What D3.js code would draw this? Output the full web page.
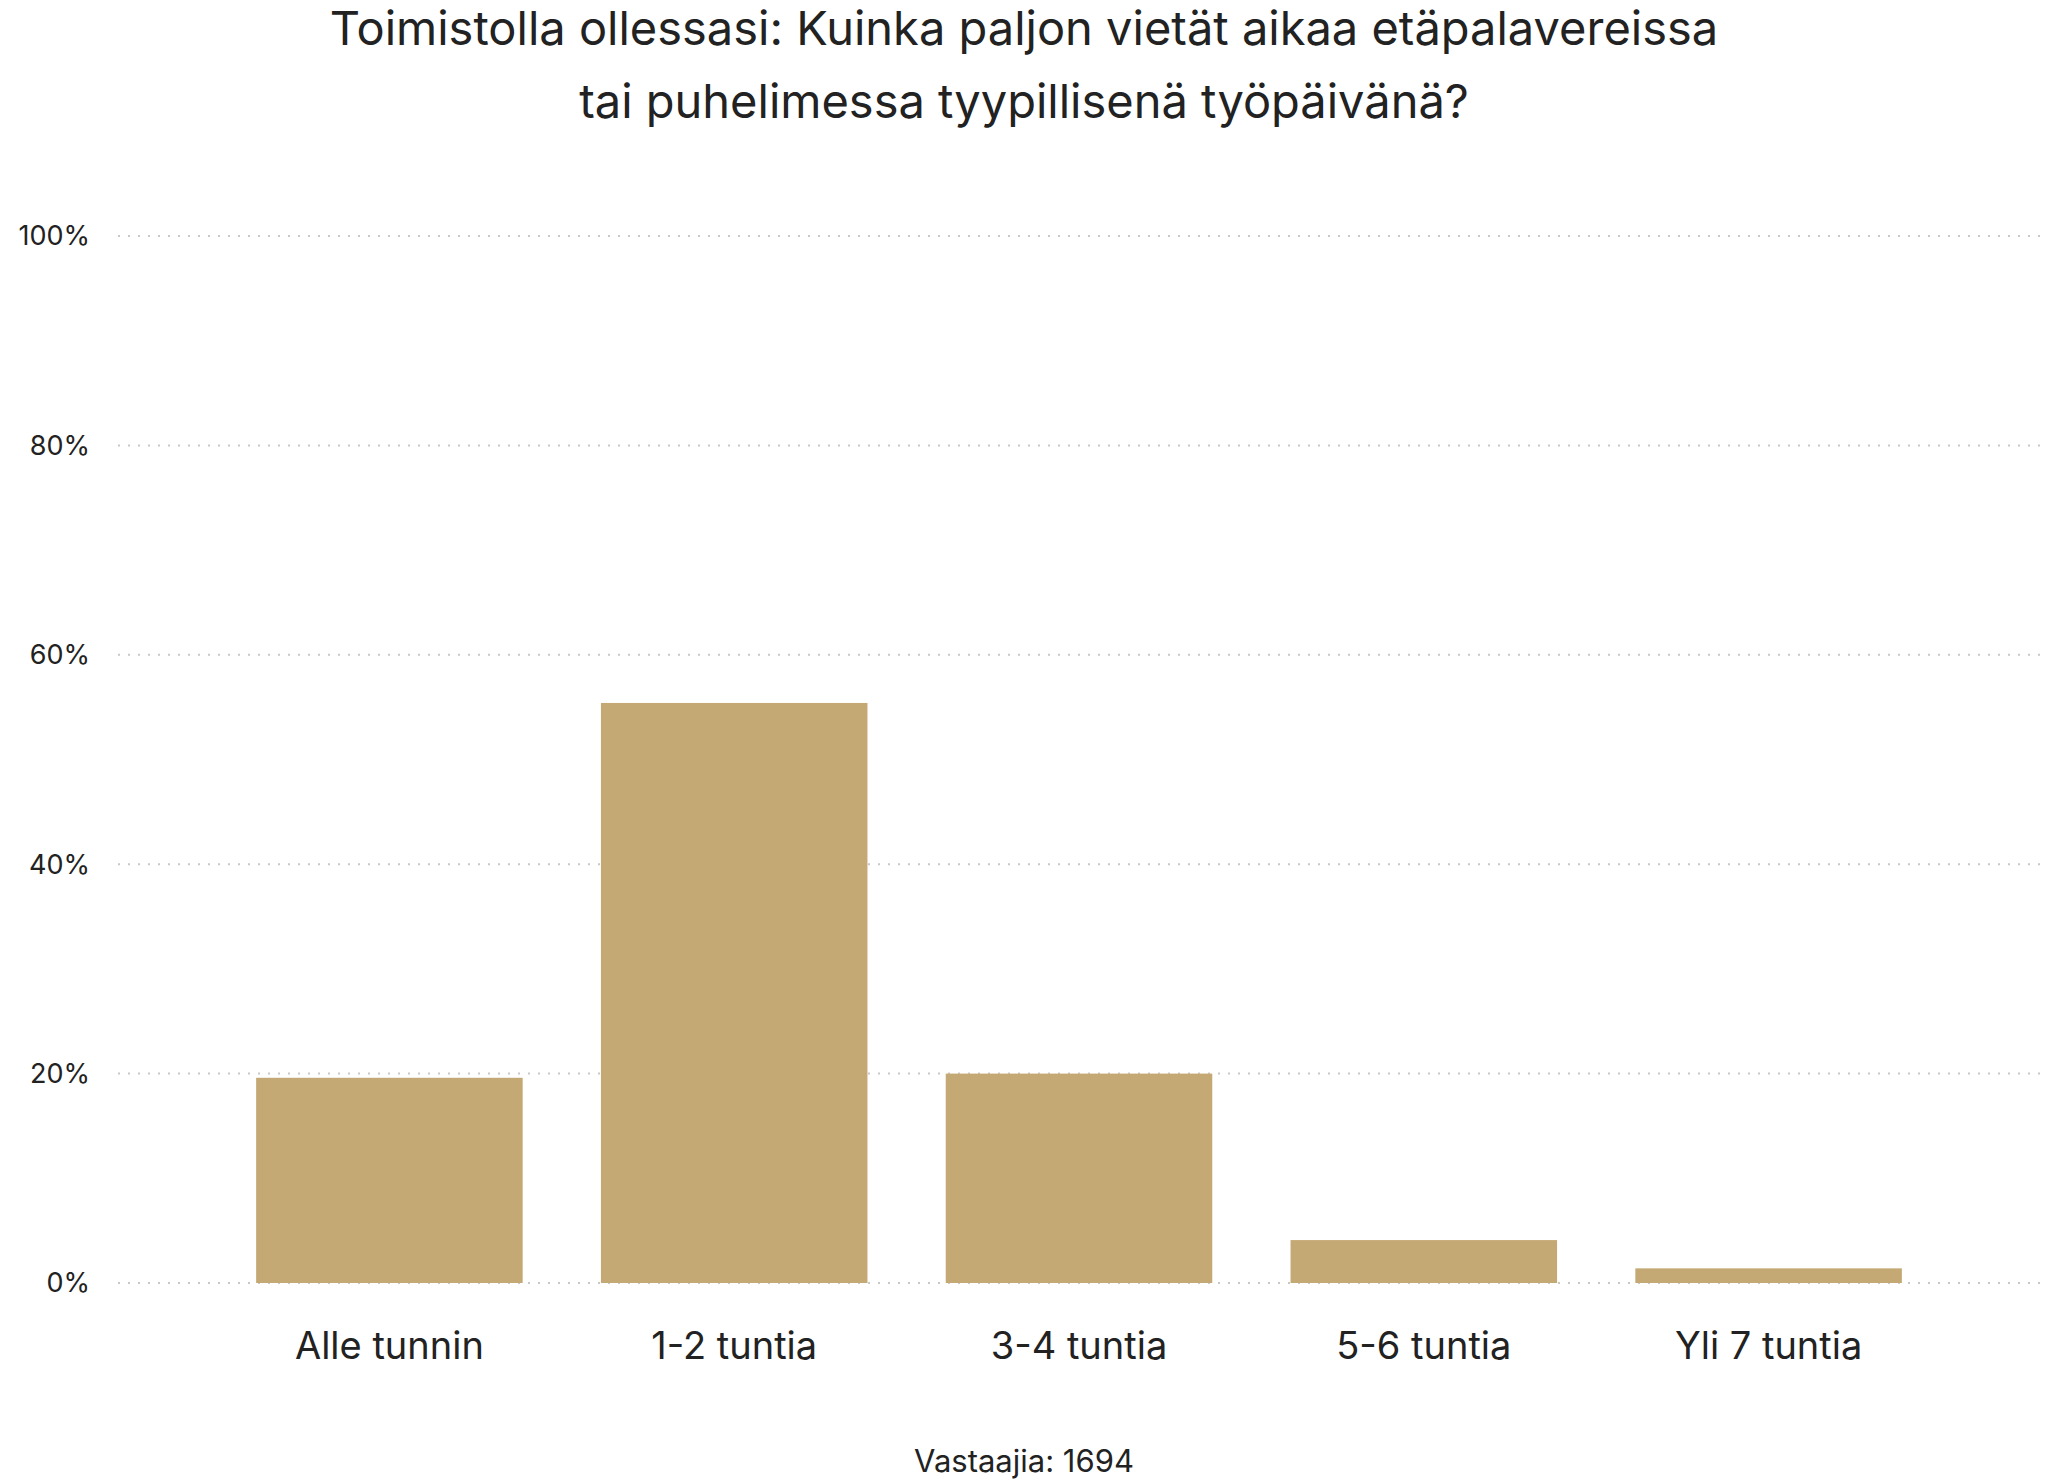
<!DOCTYPE html><html><head><meta charset="utf-8">
<script src="https://cdn.jsdelivr.net/npm/d3@7"></script>
<style>body{margin:0;background:#fff}text{font-family:Inter,"Noto Sans",sans-serif;fill:#222}</style></head>
<body><svg id="c" width="2048" height="1484"></svg>
<script>
const categories=["Alle tunnin","1-2 tuntia","3-4 tuntia","5-6 tuntia","Yli 7 tuntia"];
const values=[19.6,55.4,20.0,4.1,1.4];
const yTicks=[0,20,40,60,80,100];
const titleLines=["Toimistolla ollessasi: Kuinka paljon vietät aikaa etäpalavereissa","tai puhelimessa tyypillisenä työpäivänä?"];
const note="Vastaajia: 1694";
const svg=d3.select("#c");
const y=d3.scaleLinear().domain([0,100]).range([1283,236]);
const x=d3.scaleBand().domain(categories).range([217,1941]).paddingInner(0.227).paddingOuter(0.1135);
const gl=svg.append("g");
gl.selectAll("line").data(yTicks).join("line").attr("x1",118).attr("x2",2044)
 .attr("y1",d=>y(d)).attr("y2",d=>y(d)).attr("stroke","#c8c8c8").attr("stroke-width",2).attr("stroke-dasharray","2,8");
svg.append("g").selectAll("text").data(yTicks).join("text").attr("x",90).attr("y",d=>y(d)).attr("dy","0.35em")
 .attr("text-anchor","end").attr("font-size",27).text(d=>d+"%");
svg.append("g").selectAll("rect").data(values).join("rect").attr("x",(d,i)=>x(categories[i])).attr("width",x.bandwidth())
 .attr("y",d=>y(d)).attr("height",d=>y(0)-y(d)).attr("fill","#c5a974");
svg.append("g").selectAll("text").data(categories).join("text").attr("x",d=>x(d)+x.bandwidth()/2).attr("y",1359)
 .attr("text-anchor","middle").attr("font-size",38).text(d=>d);
svg.append("g").selectAll("text").data(titleLines).join("text").attr("x",1024).attr("y",(d,i)=>45+i*73)
 .attr("text-anchor","middle").attr("font-size",47).text(d=>d);
svg.append("text").attr("x",1024).attr("y",1472).attr("text-anchor","middle").attr("font-size",31).text(note);
</script></body></html>
